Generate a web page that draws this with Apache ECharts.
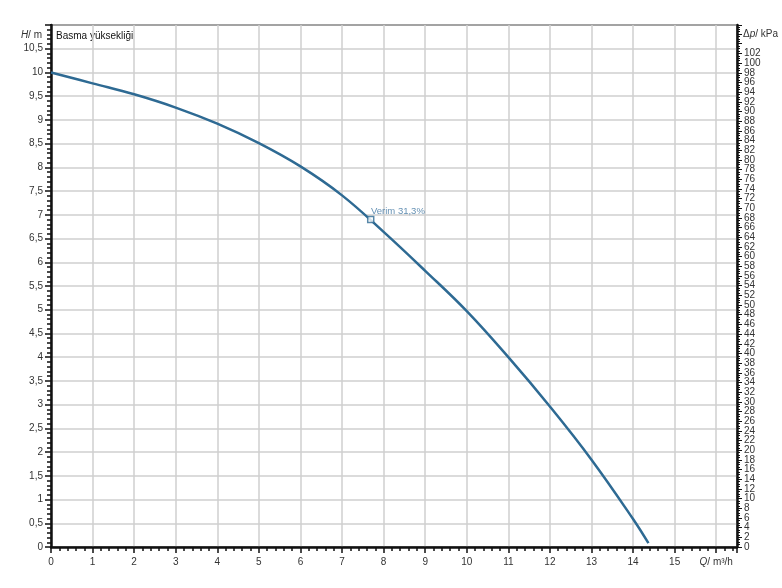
<!DOCTYPE html>
<html>
<head>
<meta charset="utf-8">
<script src="https://cdn.jsdelivr.net/npm/echarts@6/dist/echarts.min.js"></script>
<style>html,body{margin:0;padding:0;background:#fff}#c{width:782px;height:588px}</style>
</head>
<body>
<div id="c"></div>
<script>
var flowQ = [0, 1, 2, 3, 4, 5, 6, 7, 8, 9, 10, 11, 12, 13, 14, 14.37];
var headH = [10, 9.77, 9.54, 9.26, 8.92, 8.51, 8.02, 7.41, 6.64, 5.82, 4.97, 4.0, 2.96, 1.84, 0.59, 0.08];
var dutyPoint = [7.69, 6.90];
var dutyLabel = 'Verim 31,3%';
var curveName = 'Basma yüksekliği';
var xMax = 16.5, yMax = 11;
var kPaPerM = 9.80665;

var chart = echarts.init(document.getElementById('c'));
var font = 'Liberation Sans, Arial, sans-serif';
var lblColor = '#333';
var gridColor = '#cfcfcf';

chart.setOption({
  animation: false,
  grid: {left: 51, right: 45, top: 25, bottom: 41, show: true, borderColor: '#222', borderWidth: 2, backgroundColor: '#fff'},
  xAxis: {
    type: 'value', min: 0, max: xMax, interval: 1,
    axisLine: {show: true, lineStyle: {color: '#111', width: 2.5}},
    axisTick: {show: true, length: 6, lineStyle: {color: '#111', width: 1.5}},
    minorTick: {show: true, splitNumber: 5, length: 4, lineStyle: {color: '#111', width: 1.5}},
    splitLine: {show: true, lineStyle: {color: gridColor, width: 1.5}},
    axisLabel: {
      color: lblColor, fontFamily: font, fontSize: 10, margin: 10,
      formatter: function (v) { return v === 16 ? '{i|Q}/ m³/h' : String(v); },
      rich: {i: {fontStyle: 'italic', color: lblColor, fontFamily: font, fontSize: 10}}
    }
  },
  yAxis: [{
    type: 'value', min: 0, max: yMax, interval: 0.5,
    name: '{i|H}/ m', nameLocation: 'end', nameGap: -10,
    nameTextStyle: {align: 'right', verticalAlign: 'middle', padding: [0, 9, 0, 0], color: lblColor, fontFamily: font, fontSize: 10,
      rich: {i: {fontStyle: 'italic', color: lblColor, fontFamily: font, fontSize: 10}}},
    axisLine: {show: true, lineStyle: {color: '#111', width: 2.5}},
    axisTick: {show: true, length: 6, lineStyle: {color: '#111', width: 1.5}},
    minorTick: {show: true, splitNumber: 5, length: 4, lineStyle: {color: '#111', width: 1.5}},
    splitLine: {show: true, lineStyle: {color: gridColor, width: 1.5}},
    axisLabel: {
      color: lblColor, fontFamily: font, fontSize: 10, margin: 8, showMinLabel: true,
      formatter: function (v) { return v >= 11 ? '' : String(v).replace('.', ','); }
    }
  }, {
    type: 'value', min: 0, max: yMax * kPaPerM, interval: 2, position: 'right',
    name: 'Δ{i|p}/ kPa', nameLocation: 'end', nameGap: -9,
    nameTextStyle: {align: 'left', verticalAlign: 'middle', padding: [0, 0, 0, 6], color: lblColor, fontFamily: font, fontSize: 10,
      rich: {i: {fontStyle: 'italic', color: lblColor, fontFamily: font, fontSize: 10}}},
    axisLine: {show: true, lineStyle: {color: '#111', width: 2.5}},
    axisTick: {show: true, length: 5, lineStyle: {color: '#111', width: 1}},
    minorTick: {show: true, splitNumber: 4, length: 3, lineStyle: {color: '#111', width: 1}},
    splitLine: {show: false},
    axisLabel: {
      color: lblColor, fontFamily: font, fontSize: 10, margin: 7, showMinLabel: false,
      formatter: function (v) { return v > 102 ? '' : String(v); }
    }
  }, {
    type: 'value', min: 0, max: yMax * kPaPerM, interval: 2, position: 'right',
    axisLine: {show: false}, axisTick: {show: false}, splitLine: {show: false},
    axisLabel: {
      color: lblColor, fontFamily: font, fontSize: 10, margin: 7, showMinLabel: true,
      formatter: function (v) { return v === 0 ? '0' : ''; }
    }
  }],
  graphic: [{
    type: 'text', left: 56, top: 31,
    style: {text: curveName, fill: '#111', font: '10px Liberation Sans, Arial, sans-serif'}
  }],
  series: [{
    name: curveName, type: 'line', smooth: 0.4, showSymbol: false,
    data: flowQ.map(function (q, i) { return [q, headH[i]]; }),
    lineStyle: {color: '#2e6a93', width: 2.5},
    z: 3
  }, {
    type: 'scatter', symbol: 'rect', symbolSize: 6,
    data: [dutyPoint],
    itemStyle: {color: '#fff', borderColor: '#2e6a93', borderWidth: 1.5},
    label: {show: true, position: [4, -9], formatter: dutyLabel, color: '#3d74a0', fontFamily: font, fontSize: 9.5},
    z: 4
  }]
});
</script>
</body>
</html>
